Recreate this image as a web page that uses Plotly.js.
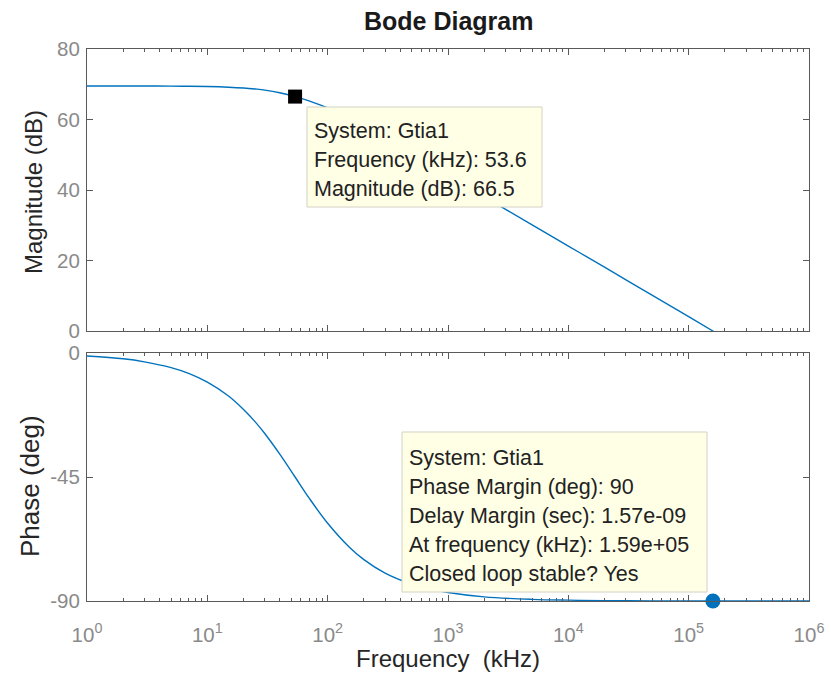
<!DOCTYPE html>
<html>
<head>
<meta charset="utf-8">
<script src="https://cdn.plot.ly/plotly-3.0.1.min.js"></script>
<style>
  html, body { margin: 0; padding: 0; background: #fff; }
  #chart { width: 831px; height: 683px; }
</style>
</head>
<body>
<div id="chart"></div>
<script>
// ---- Data (frequency in kHz) ----
const freqKHz = [1, 2, 3, 5, 7, 10, 15, 20, 25, 30, 40, 53.6, 70, 100, 150, 200, 300, 500, 700, 1000, 2000, 5000, 10000, 20000, 50000, 100000, 159000, 200000, 500000, 1000000];
const magnitudeDB = [69.5, 69.5, 69.5, 69.46, 69.43, 69.35, 69.17, 68.94, 68.65, 68.35, 67.6, 66.5, 65.3, 63.3, 60.3, 58.0, 54.5, 50.1, 47.2, 44.1, 38.1, 30.1, 24.1, 18.1, 10.1, 4.1, 0.0, -2.0, -10.0, -16.0];
const phaseDeg = [-1.1, -2.1, -3.2, -5.3, -7.4, -10.6, -15.6, -20.5, -25.0, -29.2, -36.7, -45.0, -52.6, -61.8, -70.3, -75.0, -79.9, -83.9, -85.6, -86.9, -88.5, -89.4, -89.7, -89.85, -89.94, -89.97, -89.98, -89.98, -89.99, -90.0];

const magTipFreq = [53.6];
const magTipValue = [66.5];
const pmFreq = [159000];
const pmPhase = [-90];

const magTipLines = ["System: Gtia1", "Frequency (kHz): 53.6", "Magnitude (dB): 66.5"];
const pmTipLines = ["System: Gtia1", "Phase Margin (deg): 90", "Delay Margin (sec): 1.57e-09", "At frequency (kHz): 1.59e+05", "Closed loop stable? Yes"];

const xTickVals = [1, 10, 100, 1000, 10000, 100000, 1000000];
const xTickText = ["10<sup>0</sup>", "10<sup>1</sup>", "10<sup>2</sup>", "10<sup>3</sup>", "10<sup>4</sup>", "10<sup>5</sup>", "10<sup>6</sup>"];
const magTickVals = [0, 20, 40, 60, 80];
const magTickText = ["0", "20", "40", "60", "80"];
const phaseTickVals = [0, -45, -90];
const phaseTickText = ["0", "-45", "-90"];

// minor log ticks (2..9 within each decade) — axis decoration, not data
const xMinorVals = [];
for (let d = 0; d < 6; d++) for (let m = 2; m <= 9; m++) xMinorVals.push(m * Math.pow(10, d));

// ---- Layout geometry (pixels) ----
const W = 831, H = 683;
const L = 87, R = 809, T = 49, B = 601;
const px = x => (x - L) / (R - L);
const py = y => (B - y) / (B - T);

const blue = '#0072BD';
const font = 'Liberation Sans, Arial, Helvetica, sans-serif';
const tickGrey = '#8a8a8a';
const axisGrey = '#5a5a5a';
const textDark = '#262626';

const traces = [
  { x: freqKHz, y: magnitudeDB, xaxis: 'x2', yaxis: 'y2', mode: 'lines',
    line: { color: blue, width: 1.4, shape: 'spline' }, hoverinfo: 'skip' },
  { x: freqKHz, y: phaseDeg, xaxis: 'x', yaxis: 'y', mode: 'lines',
    line: { color: blue, width: 1.4, shape: 'spline' }, hoverinfo: 'skip' },
  { x: magTipFreq, y: magTipValue, xaxis: 'x2', yaxis: 'y2', mode: 'markers',
    marker: { symbol: 'square', size: 14, color: '#000' }, cliponaxis: false, hoverinfo: 'skip' },
  { x: pmFreq, y: pmPhase, xaxis: 'x', yaxis: 'y', mode: 'markers',
    marker: { symbol: 'circle', size: 15, color: blue }, cliponaxis: false, hoverinfo: 'skip' }
];

const xCommon = {
  type: 'log', range: [0, 6], tickmode: 'array', tickvals: xTickVals, ticktext: xTickText,
  ticks: 'inside', ticklen: 6, tickwidth: 1, tickcolor: axisGrey,
  minor: { tickmode: 'array', tickvals: xMinorVals, ticks: 'inside', ticklen: 3, tickwidth: 1, tickcolor: axisGrey, showgrid: false },
  showline: true, linecolor: axisGrey, linewidth: 1, mirror: 'allticks',
  showgrid: false, zeroline: false,
  tickfont: { family: font, size: 20.5, color: tickGrey }
};

const yCommon = {
  tickmode: 'array', ticks: 'inside', ticklen: 6, tickcolor: axisGrey,
  showline: true, linecolor: axisGrey, mirror: 'allticks',
  showgrid: false, zeroline: false, ticklabelstandoff: 2,
  tickfont: { family: font, size: 20.5, color: tickGrey }
};

const layout = {
  width: W, height: H,
  margin: { l: L, r: W - R, t: T, b: H - B, pad: 0 },
  paper_bgcolor: '#fff', plot_bgcolor: '#fff',
  showlegend: false,
  xaxis: Object.assign({}, xCommon, { anchor: 'y', showticklabels: true, ticklabelstandoff: 15 }),
  xaxis2: Object.assign({}, xCommon, { anchor: 'y2', matches: 'x', showticklabels: false }),
  yaxis: Object.assign({}, yCommon, { domain: [0, py(353)], range: [-90, 0], tickvals: phaseTickVals, ticktext: phaseTickText }),
  yaxis2: Object.assign({}, yCommon, { domain: [py(331), 1], range: [0, 80], tickvals: magTickVals, ticktext: magTickText }),
  shapes: [
    { type: 'rect', xref: 'paper', yref: 'paper', layer: 'above',
      x0: px(307), x1: px(542), y0: py(207), y1: py(107),
      fillcolor: '#FFFFE6', line: { color: '#D2D2C4', width: 1 } },
    { type: 'rect', xref: 'paper', yref: 'paper', layer: 'above',
      x0: px(402), x1: px(707), y0: py(592), y1: py(432),
      fillcolor: '#FFFFE6', line: { color: '#D2D2C4', width: 1 } }
  ],
  annotations: [
    { xref: 'paper', yref: 'paper', x: px(448), y: py(21), xanchor: 'center', yanchor: 'middle',
      showarrow: false, text: '<b>Bode Diagram</b>', font: { family: font, size: 25, color: '#1a1a1a' } },
    { xref: 'paper', yref: 'paper', x: px(448), y: py(658), xanchor: 'center', yanchor: 'middle',
      showarrow: false, text: 'Frequency  (kHz)', font: { family: font, size: 24, color: textDark } },
    { xref: 'paper', yref: 'paper', x: px(33), y: py(192), xanchor: 'center', yanchor: 'middle', textangle: -90,
      showarrow: false, text: 'Magnitude (dB)', font: { family: font, size: 24, color: textDark } },
    { xref: 'paper', yref: 'paper', x: px(30), y: py(486), xanchor: 'center', yanchor: 'middle', textangle: -90,
      showarrow: false, text: 'Phase (deg)', font: { family: font, size: 26, color: textDark } }
  ]
};

magTipLines.forEach((t, i) => {
  layout.annotations.push({ xref: 'paper', yref: 'paper', x: px(312), y: py(131 + 29 * i),
    xanchor: 'left', yanchor: 'middle', showarrow: false, text: t, align: 'left',
    font: { family: font, size: 21.5, color: '#222' } });
});
pmTipLines.forEach((t, i) => {
  layout.annotations.push({ xref: 'paper', yref: 'paper', x: px(407), y: py(458 + 29 * i),
    xanchor: 'left', yanchor: 'middle', showarrow: false, text: t, align: 'left',
    font: { family: font, size: 21.5, color: '#222' } });
});

Plotly.newPlot('chart', traces, layout, { staticPlot: true, displayModeBar: false });
</script>
</body>
</html>
